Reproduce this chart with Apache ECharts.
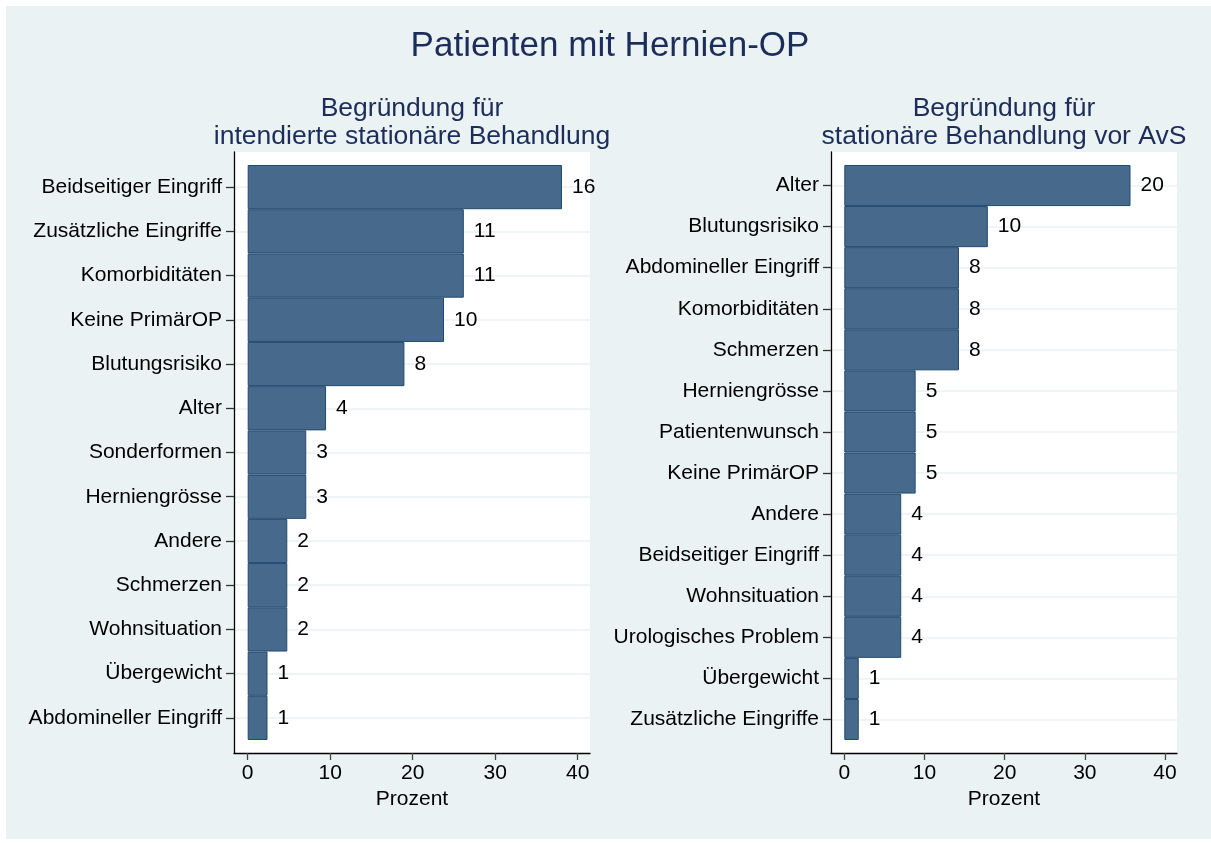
<!DOCTYPE html>
<html>
<head>
<meta charset="utf-8">
<script src="https://cdn.jsdelivr.net/npm/echarts@6/dist/echarts.min.js"></script>
<style>
html,body{margin:0;padding:0;background:#fff;}
#chart{width:1211px;height:843px;}
</style>
</head>
<body>
<div id="chart"></div>
<script>
// ---- data ----
const mainTitle = 'Patienten mit Hernien-OP';
const leftTitle = 'Begründung für\nintendierte stationäre Behandlung';
const rightTitle = 'Begründung für\nstationäre Behandlung vor AvS';
const xTicks = [0, 10, 20, 30, 40];
const xName = 'Prozent';

const leftCategories = ['Beidseitiger Eingriff', 'Zusätzliche Eingriffe', 'Komorbiditäten', 'Keine PrimärOP',
  'Blutungsrisiko', 'Alter', 'Sonderformen', 'Herniengrösse', 'Andere', 'Schmerzen', 'Wohnsituation',
  'Übergewicht', 'Abdomineller Eingriff'];
const leftPercent = [38.1, 26.2, 26.2, 23.8, 19.0, 9.5, 7.1, 7.1, 4.8, 4.8, 4.8, 2.4, 2.4];
const leftCounts = [16, 11, 11, 10, 8, 4, 3, 3, 2, 2, 2, 1, 1];

const rightCategories = ['Alter', 'Blutungsrisiko', 'Abdomineller Eingriff', 'Komorbiditäten', 'Schmerzen',
  'Herniengrösse', 'Patientenwunsch', 'Keine PrimärOP', 'Andere', 'Beidseitiger Eingriff', 'Wohnsituation',
  'Urologisches Problem', 'Übergewicht', 'Zusätzliche Eingriffe'];
const rightPercent = [35.7, 17.9, 14.3, 14.3, 14.3, 8.9, 8.9, 8.9, 7.1, 7.1, 7.1, 7.1, 1.8, 1.8];
const rightCounts = [20, 10, 8, 8, 8, 5, 5, 5, 4, 4, 4, 4, 1, 1];

// ---- style ----
const FONT = '"Liberation Sans", Arial, Helvetica, sans-serif';
const BG = '#EAF2F3';
const NAVY = '#1C2D5A';
const BAR = '#476A8C';
const BAR_BORDER = '#21496F';
const XMIN = -1.66, XMAX = 41.5;
const FS = 21;

const chart = echarts.init(document.getElementById('chart'), null, {renderer: 'canvas'});

const panels = [
  {left: 234, right: 1211 - 590, cats: leftCategories, vals: leftPercent, counts: leftCounts},
  {left: 831, right: 1211 - 1177, cats: rightCategories, vals: rightPercent, counts: rightCounts}
];

const grids = [], xAxes = [], yAxes = [], series = [];
panels.forEach((p, i) => {
  // frame grid (white plot region, axis lines, x ticks)
  grids.push({left: p.left, right: p.right, top: 152, bottom: 90, show: true,
    backgroundColor: '#fff', borderWidth: 0, containLabel: false});
  // data grid
  grids.push({left: p.left, right: p.right, top: 165, bottom: 103, containLabel: false});
  const fg = 2 * i, dg = 2 * i + 1;
  xAxes.push({
    gridIndex: fg, type: 'value', min: XMIN, max: XMAX,
    axisLine: {show: true, onZero: false, lineStyle: {color: '#000', width: 1.3}},
    axisTick: {show: true, length: 7, customValues: xTicks, lineStyle: {color: '#444', width: 1.3}},
    axisLabel: {show: true, customValues: xTicks, margin: 10, fontSize: FS, color: '#000', fontFamily: FONT},
    splitLine: {show: false},
    name: xName, nameLocation: 'middle', nameGap: 35,
    nameTextStyle: {fontSize: FS, color: '#000', fontFamily: FONT}
  });
  yAxes.push({
    gridIndex: fg, type: 'value', min: 0, max: 1,
    axisLine: {show: true, onZero: false, lineStyle: {color: '#000', width: 1.3}},
    axisTick: {show: false}, axisLabel: {show: false}, splitLine: {show: false}
  });
  xAxes.push({
    gridIndex: dg, type: 'value', min: XMIN, max: XMAX, show: false
  });
  yAxes.push({
    gridIndex: dg, type: 'category', data: p.cats, inverse: true,
    axisLine: {show: false, onZero: false},
    axisTick: {show: true, length: 8, alignWithLabel: true, lineStyle: {color: '#333', width: 1.3}},
    axisLabel: {show: true, margin: 12, fontSize: FS, color: '#000', fontFamily: FONT, interval: 0},
    splitLine: {show: true, alignWithLabel: true, lineStyle: {color: BG, width: 1.5}}
  });
  series.push({
    type: 'bar', xAxisIndex: 2 * i + 1, yAxisIndex: 2 * i + 1,
    data: p.vals, barCategoryGap: '0%',
    itemStyle: {color: BAR, borderColor: BAR_BORDER, borderWidth: 1},
    label: {show: true, position: 'right', distance: 10, fontSize: FS, color: '#000', fontFamily: FONT,
      formatter: (params) => String(p.counts[params.dataIndex])},
    emphasis: {disabled: true},
    animation: false
  });
});

const option = {
  backgroundColor: '#fff',
  animation: false,
  graphic: [
    {type: 'rect', shape: {x: 6, y: 6, width: 1205, height: 833}, style: {fill: BG}, z: -10, silent: true},
    {type: 'text', x: 610, y: 46, style: {text: mainTitle, font: '35px ' + FONT, fill: NAVY, align: 'center', verticalAlign: 'middle'}},
    {type: 'text', x: 412, y: 95, style: {text: leftTitle, font: '26.5px ' + FONT, fill: NAVY, align: 'center', verticalAlign: 'top', lineHeight: 28}},
    {type: 'text', x: 1004, y: 95, style: {text: rightTitle, font: '26.5px ' + FONT, fill: NAVY, align: 'center', verticalAlign: 'top', lineHeight: 28}}
  ],
  grid: grids,
  xAxis: xAxes,
  yAxis: yAxes,
  series: series
};
chart.setOption(option);
</script>
</body>
</html>
